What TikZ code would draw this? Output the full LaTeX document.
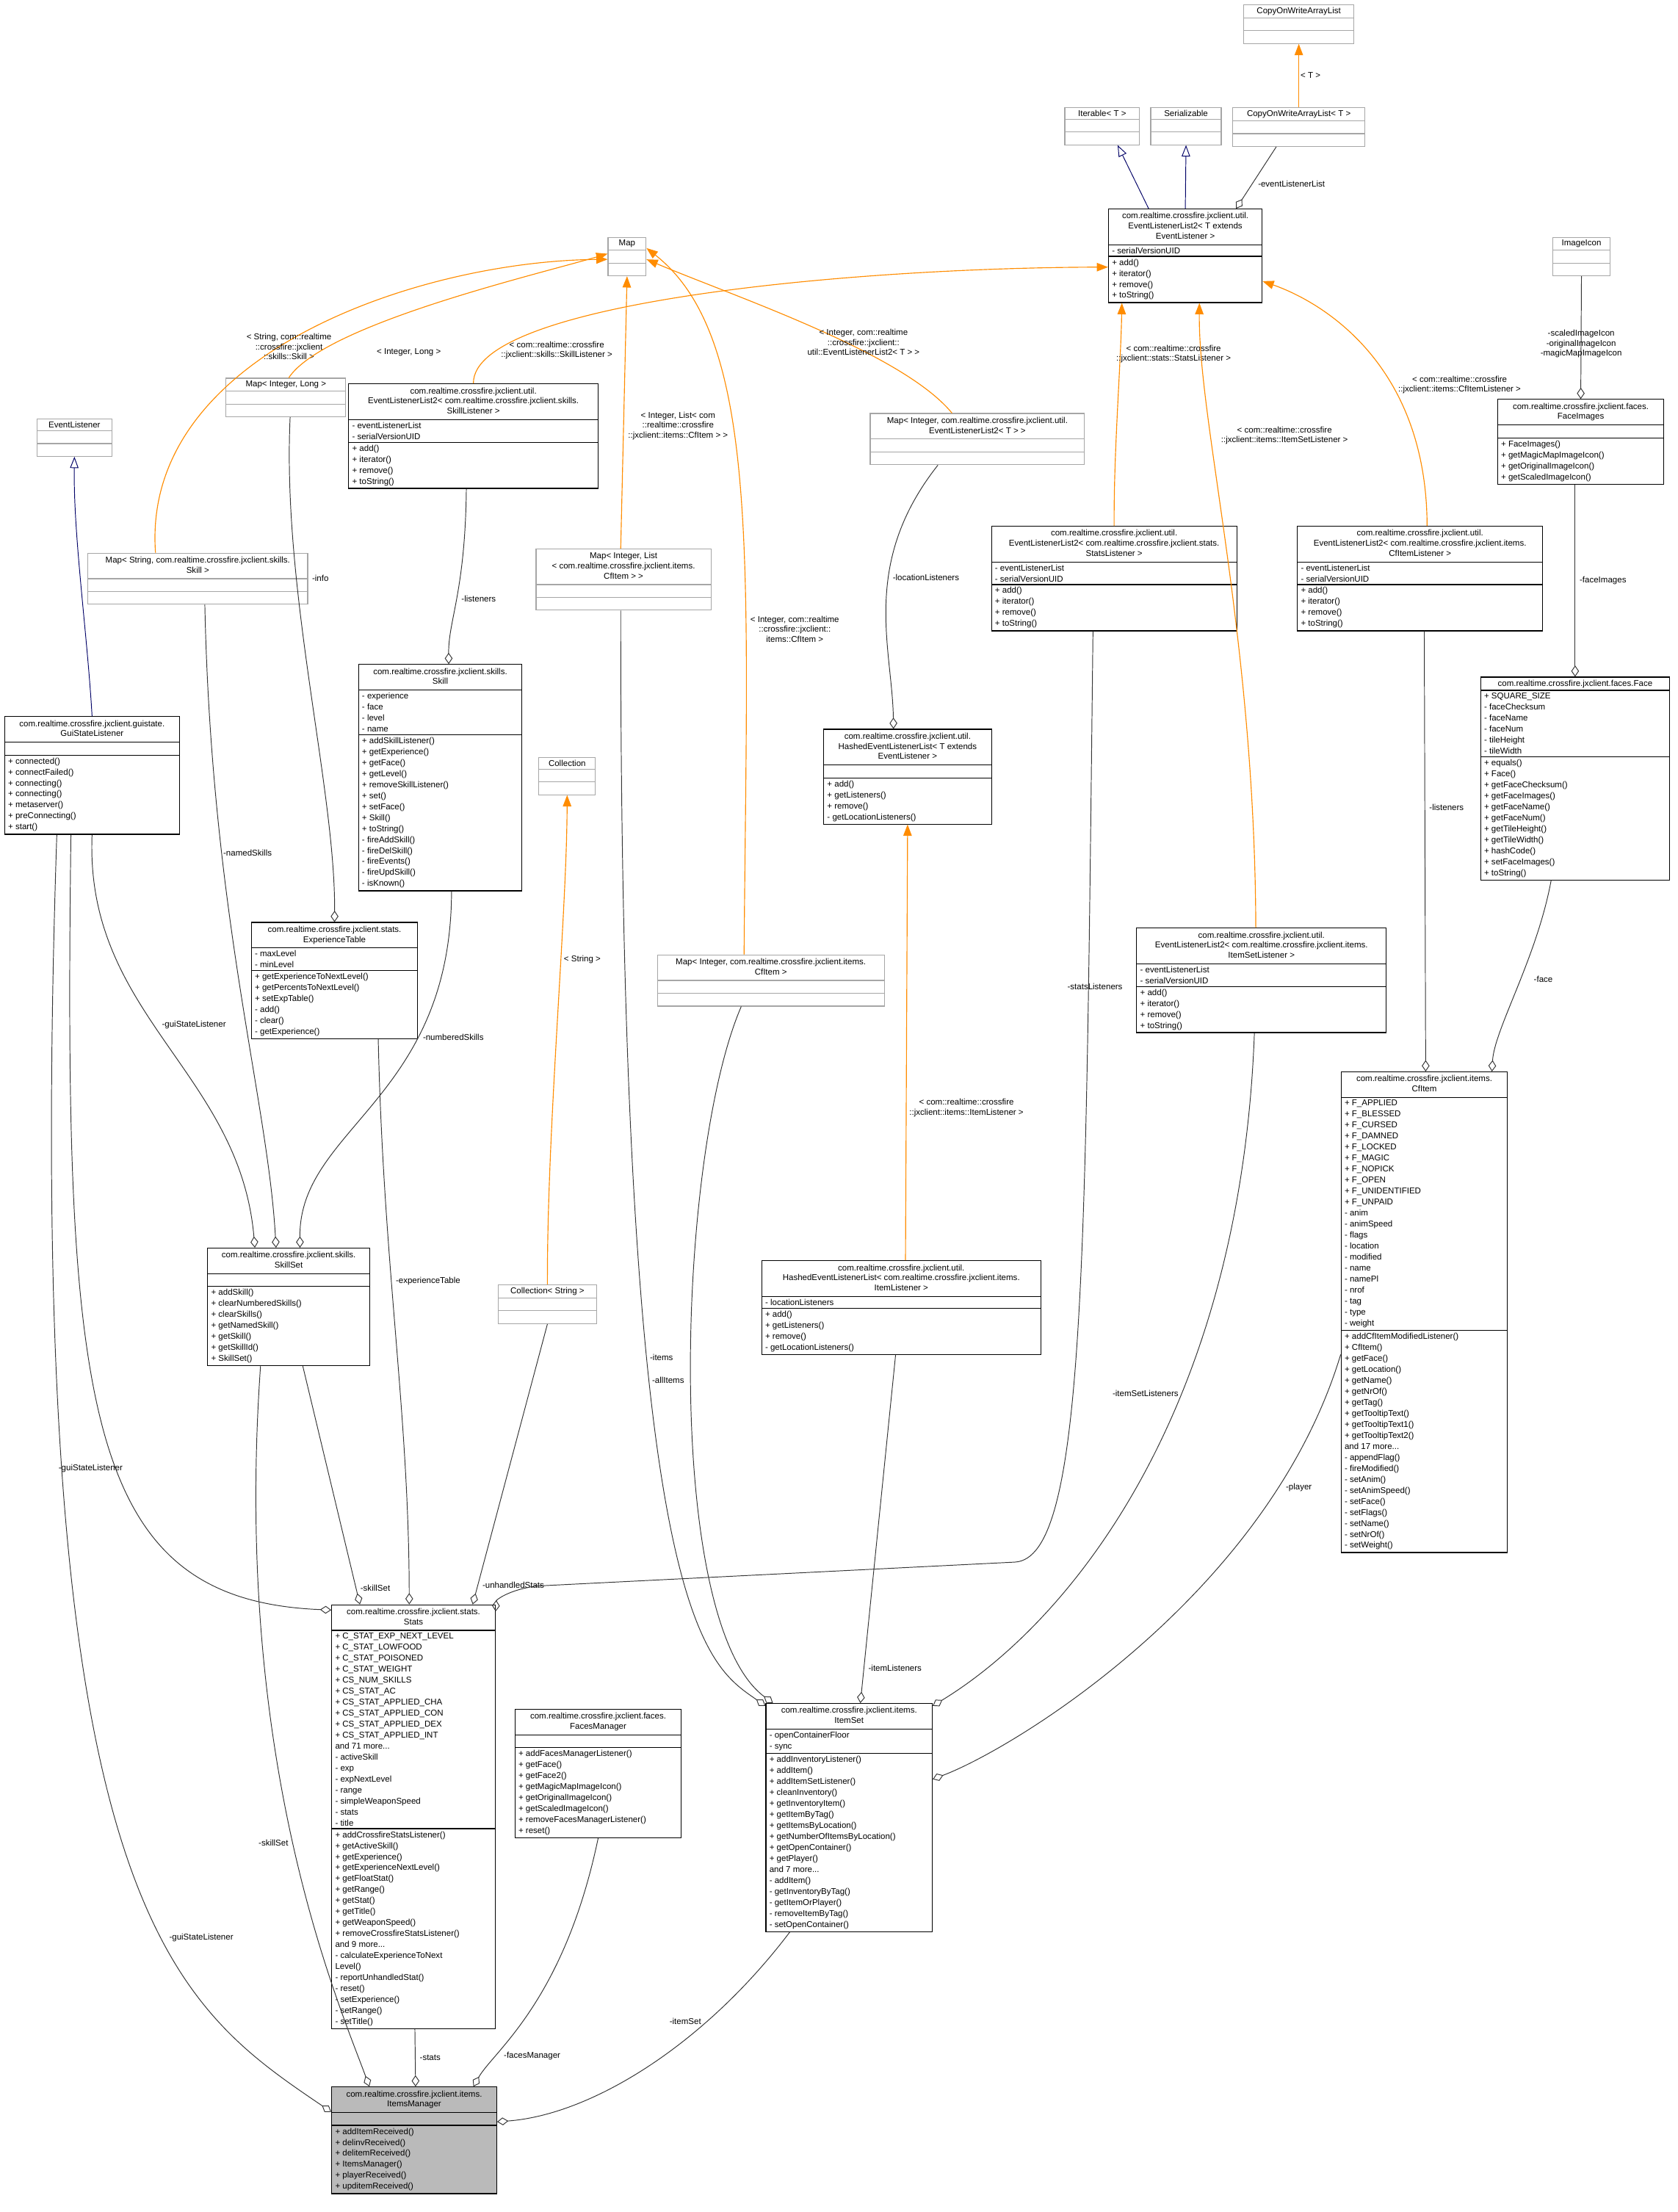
\documentclass[tikz,border=0pt]{standalone}
\usepackage{fontspec}
\setmainfont{Liberation Sans}
\usetikzlibrary{shapes.multipart,arrows.meta}
\newcommand{\ctitle}[1]{\begin{tabular}{@{}c@{}}#1\end{tabular}}

\begin{document}
\begin{tikzpicture}[x=1pt,y=-1pt,
		cls/.style={rectangle split,rectangle split parts=3,draw=black,anchor=north west,
			inner xsep=2.5pt,inner ysep=1.6pt,align=left,font=\fontsize{6}{7.8}\selectfont,
			rectangle split part align={center,left,left},
			rectangle split empty part height=4pt,line width=0.6pt},
		extcls/.style={cls,draw=black!35},
		agg/.style={draw=black!80,line width=0.5pt,-{Diamond[open,length=8pt,width=5.5pt]}},
		inh/.style={draw=blue!40!black,line width=0.5pt,-{Triangle[open,length=8pt,width=6pt]}},
		tmpl/.style={draw=orange!90!yellow,line width=0.6pt,-{Triangle[length=8pt,width=6pt]}},
		lbl/.style={font=\fontsize{6}{7}\selectfont,align=center,inner sep=1pt}]
		\useasboundingbox (0,0) rectangle (1190,1569);
		\renewcommand{\arraystretch}{0.92}
		
		% classes
		\node[extcls,minimum width=78] (copyList) at (882,3) {CopyOnWriteArrayList\nodepart{two}\nodepart{three}};
		\node[extcls,minimum width=53] (iterable) at (755,76) {Iterable< T >\nodepart{two}\nodepart{three}};
		\node[extcls,minimum width=50] (serializable) at (816,76) {Serializable\nodepart{two}\nodepart{three}};
		\node[extcls,minimum width=94] (copyListT) at (874,76) {CopyOnWriteArrayList< T >\nodepart{two}\nodepart{three}};
		\node[cls,minimum width=109] (evList) at (786,148) {\ctitle{com.realtime.crossfire.jxclient.util.\\EventListenerList2< T extends\\EventListener >}
			\nodepart{two}- serialVersionUID\nodepart{three}+ add()\\+ iterator()\\+ remove()\\+ toString()};
		\node[extcls,minimum width=27] (map) at (431,168) {Map\nodepart{two}\nodepart{three}};
		\node[extcls,minimum width=41] (imageIcon) at (1101,168) {ImageIcon\nodepart{two}\nodepart{three}};
		\node[cls,minimum width=118] (faceImages) at (1062,283) {\ctitle{com.realtime.crossfire.jxclient.faces.\\FaceImages}
			\nodepart{two}\nodepart{three}+ FaceImages()\\+ getMagicMapImageIcon()\\+ getOriginalImageIcon()\\+ getScaledImageIcon()};
		\node[extcls,minimum width=53] (eventListener) at (26,297) {EventListener\nodepart{two}\nodepart{three}};
		\node[cls,minimum width=177] (evListSkill) at (247,272) {\ctitle{com.realtime.crossfire.jxclient.util.\\EventListenerList2< com.realtime.crossfire.jxclient.skills.\\SkillListener >}
			\nodepart{two}- eventListenerList\\- serialVersionUID\nodepart{three}+ add()\\+ iterator()\\+ remove()\\+ toString()};
		\node[extcls,minimum width=85] (mapLong) at (160,268) {Map< Integer, Long >\nodepart{two}\nodepart{three}};
		\node[extcls,minimum width=152] (mapEvList) at (617,293) {\ctitle{Map< Integer, com.realtime.crossfire.jxclient.util.\\EventListenerList2< T > >}\nodepart{two}\nodepart{three}};
		\node[extcls,minimum width=156] (mapSkill) at (62,392) {\ctitle{Map< String, com.realtime.crossfire.jxclient.skills.\\Skill >}\nodepart{two}\nodepart{three}};
		\node[extcls,minimum width=124] (mapList) at (380,389) {\ctitle{Map< Integer, List\\< com.realtime.crossfire.jxclient.items.\\CfItem > >}\nodepart{two}\nodepart{three}};
		\node[cls,minimum width=174] (evListStats) at (703,373) {\ctitle{com.realtime.crossfire.jxclient.util.\\EventListenerList2< com.realtime.crossfire.jxclient.stats.\\StatsListener >}
			\nodepart{two}- eventListenerList\\- serialVersionUID\nodepart{three}+ add()\\+ iterator()\\+ remove()\\+ toString()};
		\node[cls,minimum width=174] (evListCfItem) at (920,373) {\ctitle{com.realtime.crossfire.jxclient.util.\\EventListenerList2< com.realtime.crossfire.jxclient.items.\\CfItemListener >}
			\nodepart{two}- eventListenerList\\- serialVersionUID\nodepart{three}+ add()\\+ iterator()\\+ remove()\\+ toString()};
		\node[cls,minimum width=124] (guiState) at (3,508) {\ctitle{com.realtime.crossfire.jxclient.guistate.\\GuiStateListener}
			\nodepart{two}\nodepart{three}+ connected()\\+ connectFailed()\\+ connecting()\\+ connecting()\\+ metaserver()\\+ preConnecting()\\+ start()};
		\node[cls,minimum width=116] (skill) at (254,471) {\ctitle{com.realtime.crossfire.jxclient.skills.\\Skill}
			\nodepart{two}- experience\\- face\\- level\\- name
			\nodepart{three}+ addSkillListener()\\+ getExperience()\\+ getFace()\\+ getLevel()\\+ removeSkillListener()\\+ set()\\+ setFace()\\+ Skill()\\+ toString()\\- fireAddSkill()\\- fireDelSkill()\\- fireEvents()\\- fireUpdSkill()\\- isKnown()};
		\node[cls,minimum width=134] (face) at (1050,480) {com.realtime.crossfire.jxclient.faces.Face
			\nodepart{two}+ SQUARE\_SIZE\\- faceChecksum\\- faceName\\- faceNum\\- tileHeight\\- tileWidth
			\nodepart{three}+ equals()\\+ Face()\\+ getFaceChecksum()\\+ getFaceImages()\\+ getFaceName()\\+ getFaceNum()\\+ getTileHeight()\\+ getTileWidth()\\+ hashCode()\\+ setFaceImages()\\+ toString()};
		\node[cls,minimum width=119] (hashedList) at (584,517) {\ctitle{com.realtime.crossfire.jxclient.util.\\HashedEventListenerList< T extends\\EventListener >}
			\nodepart{two}\nodepart{three}+ add()\\+ getListeners()\\+ remove()\\- getLocationListeners()};
		\node[extcls,minimum width=40] (collection) at (382,537) {Collection\nodepart{two}\nodepart{three}};
		\node[cls,minimum width=118] (expTable) at (178,654) {\ctitle{com.realtime.crossfire.jxclient.stats.\\ExperienceTable}
			\nodepart{two}- maxLevel\\- minLevel
			\nodepart{three}+ getExperienceToNextLevel()\\+ getPercentsToNextLevel()\\+ setExpTable()\\- add()\\- clear()\\- getExperience()};
		\node[extcls,minimum width=161] (mapCfItem) at (466,677) {\ctitle{Map< Integer, com.realtime.crossfire.jxclient.items.\\CfItem >}\nodepart{two}\nodepart{three}};
		\node[cls,minimum width=177] (evListItemSet) at (806,658) {\ctitle{com.realtime.crossfire.jxclient.util.\\EventListenerList2< com.realtime.crossfire.jxclient.items.\\ItemSetListener >}
			\nodepart{two}- eventListenerList\\- serialVersionUID\nodepart{three}+ add()\\+ iterator()\\+ remove()\\+ toString()};
		\node[cls,minimum width=118] (cfItem) at (951,760) {\ctitle{com.realtime.crossfire.jxclient.items.\\CfItem}
			\nodepart{two}+ F\_APPLIED\\+ F\_BLESSED\\+ F\_CURSED\\+ F\_DAMNED\\+ F\_LOCKED\\+ F\_MAGIC\\+ F\_NOPICK\\+ F\_OPEN\\+ F\_UNIDENTIFIED\\+ F\_UNPAID\\- anim\\- animSpeed\\- flags\\- location\\- modified\\- name\\- namePl\\- nrof\\- tag\\- type\\- weight
			\nodepart{three}+ addCfItemModifiedListener()\\+ CfItem()\\+ getFace()\\+ getLocation()\\+ getName()\\+ getNrOf()\\+ getTag()\\+ getTooltipText()\\+ getTooltipText1()\\+ getTooltipText2()\\and 17 more...\\- appendFlag()\\- fireModified()\\- setAnim()\\- setAnimSpeed()\\- setFace()\\- setFlags()\\- setName()\\- setNrOf()\\- setWeight()};
		\node[cls,minimum width=115] (skillSet) at (147,885) {\ctitle{com.realtime.crossfire.jxclient.skills.\\SkillSet}
			\nodepart{two}\nodepart{three}+ addSkill()\\+ clearNumberedSkills()\\+ clearSkills()\\+ getNamedSkill()\\+ getSkill()\\+ getSkillId()\\+ SkillSet()};
		\node[extcls,minimum width=70] (collectionStr) at (353,911) {Collection< String >\nodepart{two}\nodepart{three}};
		\node[cls,minimum width=198] (hashedItem) at (540,894) {\ctitle{com.realtime.crossfire.jxclient.util.\\HashedEventListenerList< com.realtime.crossfire.jxclient.items.\\ItemListener >}
			\nodepart{two}- locationListeners\nodepart{three}+ add()\\+ getListeners()\\+ remove()\\- getLocationListeners()};
		\node[cls,minimum width=116] (stats) at (235,1138) {\ctitle{com.realtime.crossfire.jxclient.stats.\\Stats}
			\nodepart{two}+ C\_STAT\_EXP\_NEXT\_LEVEL\\+ C\_STAT\_LOWFOOD\\+ C\_STAT\_POISONED\\+ C\_STAT\_WEIGHT\\+ CS\_NUM\_SKILLS\\+ CS\_STAT\_AC\\+ CS\_STAT\_APPLIED\_CHA\\+ CS\_STAT\_APPLIED\_CON\\+ CS\_STAT\_APPLIED\_DEX\\+ CS\_STAT\_APPLIED\_INT\\and 71 more...\\- activeSkill\\- exp\\- expNextLevel\\- range\\- simpleWeaponSpeed\\- stats\\- title
			\nodepart{three}+ addCrossfireStatsListener()\\+ getActiveSkill()\\+ getExperience()\\+ getExperienceNextLevel()\\+ getFloatStat()\\+ getRange()\\+ getStat()\\+ getTitle()\\+ getWeaponSpeed()\\+ removeCrossfireStatsListener()\\and 9 more...\\- calculateExperienceToNext\\Level()\\- reportUnhandledStat()\\- reset()\\- setExperience()\\- setRange()\\- setTitle()};
		\node[cls,minimum width=118] (facesManager) at (365,1212) {\ctitle{com.realtime.crossfire.jxclient.faces.\\FacesManager}
			\nodepart{two}\nodepart{three}+ addFacesManagerListener()\\+ getFace()\\+ getFace2()\\+ getMagicMapImageIcon()\\+ getOriginalImageIcon()\\+ getScaledImageIcon()\\+ removeFacesManagerListener()\\+ reset()};
		\node[cls,minimum width=118] (itemSet) at (543,1208) {\ctitle{com.realtime.crossfire.jxclient.items.\\ItemSet}
			\nodepart{two}- openContainerFloor\\- sync
			\nodepart{three}+ addInventoryListener()\\+ addItem()\\+ addItemSetListener()\\+ cleanInventory()\\+ getInventoryItem()\\+ getItemByTag()\\+ getItemsByLocation()\\+ getNumberOfItemsByLocation()\\+ getOpenContainer()\\+ getPlayer()\\and 7 more...\\- addItem()\\- getInventoryByTag()\\- getItemOrPlayer()\\- removeItemByTag()\\- setOpenContainer()};
		\node[cls,minimum width=117,fill=black!27] (itemsManager) at (235,1480) {\ctitle{com.realtime.crossfire.jxclient.items.\\ItemsManager}
			\nodepart{two}\nodepart{three}+ addItemReceived()\\+ delinvReceived()\\+ delitemReceived()\\+ ItemsManager()\\+ playerReceived()\\+ upditemReceived()};
		
		% inheritance
		\draw[inh] ([xshift=-26]evList.north) -- ([xshift=11]iterable.south);
		\draw[inh] (evList.north) -- (serializable.south);
		\draw[inh] (guiState.north) .. controls (62,450) and (52,380) .. (eventListener.south);
		
		% template instances
		\draw[tmpl] (copyListT.north) -- node[lbl,right]{< T >} (copyList.south);
		\draw[tmpl] (evListSkill.north) .. controls (335,215) and (600,190) .. ([yshift=-8]evList.west)
			node[lbl,pos=0.15,right=2pt]{< com::realtime::crossfire\\::jxclient::skills::SkillListener >};
		\draw[tmpl] (evListStats.north) .. controls (790,320) and (795,260) .. ([xshift=-45]evList.south)
			node[lbl,pos=0.75,right=-4pt]{< com::realtime::crossfire\\::jxclient::stats::StatsListener >};
		\draw[tmpl] ([xshift=5]evListCfItem.north) .. controls (1012,260) and (940,215) .. ([yshift=-18]evList.east)
			node[lbl,pos=0.3,left=-40pt,above=8pt]{< com::realtime::crossfire\\::jxclient::items::CfItemListener >};
		\draw[tmpl] ([xshift=-4]evListItemSet.north) .. controls (890,450) and (850,300) .. ([xshift=10]evList.south)
			node[lbl,pos=0.7,right=6pt]{< com::realtime::crossfire\\::jxclient::items::ItemSetListener >};
		\draw[tmpl] ([xshift=-30]mapSkill.north) .. controls (100,250) and (300,185) .. ([yshift=-2]map.west);
		\node[lbl] (lblMapSkill) at (205,246) {< String, com::realtime\\::crossfire::jxclient\\::skills::Skill >};
		\draw[tmpl] ([xshift=2]mapLong.north) .. controls (230,230) and (380,195) .. ([yshift=2]map.west);
		\node[lbl] (lblMapLong) at (290,250) {< Integer, Long >};
		\draw[tmpl] ([xshift=-2]mapList.north) -- (map.south)
			node[lbl,pos=0.45,right=2pt]{< Integer, List< com\\::realtime::crossfire\\::jxclient::items::CfItem > >};
		\draw[tmpl] ([xshift=-19]mapCfItem.north) .. controls (530,400) and (540,240) .. ([yshift=6]map.east)
			node[lbl,pos=0.32,anchor=west,xshift=2pt]{< Integer, com::realtime\\::crossfire::jxclient::\\items::CfItem >};
		\draw[tmpl] ([xshift=-18]mapEvList.north) .. controls (640,250) and (520,210) .. ([yshift=-2]map.east)
			node[lbl,pos=0.3,right=-12pt,above=2pt]{< Integer, com::realtime\\::crossfire::jxclient::\\util::EventListenerList2< T > >};
		\draw[tmpl] ([xshift=3]hashedItem.north) -- (hashedList.south)
			node[lbl,pos=0.35,right=1pt]{< com::realtime::crossfire\\::jxclient::items::ItemListener >};
		\draw[tmpl] (collectionStr.north) .. controls (388,800) and (402,650) .. (collection.south)
			node[lbl,pos=0.63,right=1pt]{< String >};
		
		% aggregations
		\draw[agg] ([xshift=-16]copyListT.south) -- node[lbl,right=3pt,pos=0.6]{-eventListenerList} ([xshift=36]evList.north);
		\draw[agg] (imageIcon.south) -- node[lbl,pos=0.55,right=-30pt]{-scaledImageIcon\\-originalImageIcon\\-magicMapImageIcon} (faceImages.north);
		\draw[agg] ([xshift=-4]faceImages.south) -- node[lbl,pos=0.5,right=2pt]{-faceImages} (face.north);
		\draw[agg] ([xshift=3]mapLong.south) .. controls (200,420) and (238,560) .. (expTable.north)
			node[lbl,pos=0.3,right=10pt]{-info};
		\draw[agg] ([xshift=-5]evListSkill.south) .. controls (330,420) and (318,440) .. ([xshift=6]skill.north)
			node[lbl,pos=0.5,right=2pt]{-listeners};
		\draw[agg] ([xshift=-28]mapEvList.south) .. controls (610,400) and (633,460) .. ([xshift=-10]hashedList.north)
			node[lbl,pos=0.4,right=2pt]{-locationListeners};
		\draw[agg] ([xshift=3]evListCfItem.south) -- node[lbl,pos=0.4,right=2pt]{-listeners} ([xshift=1]cfItem.north);
		\draw[agg] ([xshift=-17]face.south) .. controls (1090,680) and (1060,730) .. ([xshift=48]cfItem.north)
			node[lbl,pos=0.45,right=8pt]{-face};
		\draw[agg] ([xshift=5]mapSkill.south) .. controls (150,650) and (190,780) .. ([xshift=-9]skillSet.north)
			node[lbl,pos=0.3,right=0pt]{-namedSkills};
		\draw[agg] ([xshift=8]skill.south) .. controls (320,780) and (212,800) .. ([xshift=8]skillSet.north)
			node[lbl,pos=0.3,right=2pt]{-numberedSkills};
		\draw[agg] ([xshift=-0]guiState.south) .. controls (60,720) and (170,760) .. ([xshift=-24]skillSet.north)
			node[lbl,pos=0.45,right=5pt]{-guiStateListener};
		\draw[agg] ([xshift=-15]guiState.south) .. controls (45,1000) and (60,1135) .. ([yshift=-4]stats.north west)
			node[lbl,pos=0.55,left=-5pt]{-guiStateListener};
		\draw[agg] ([xshift=-25]guiState.south) .. controls (15,1350) and (120,1420) .. ([yshift=-18]itemsManager.north west)
			node[lbl,pos=0.62,right=4pt]{-guiStateListener};
		\draw[agg] ([xshift=31]expTable.south) .. controls (272,900) and (290,1000) .. ([xshift=-3]stats.north)
			node[lbl,pos=0.4,right=2pt]{-experienceTable};
		\draw[agg] ([xshift=10]skillSet.south) -- node[lbl,pos=0.93,right=2pt]{-skillSet} ([xshift=-38]stats.north);
		\draw[agg] ([xshift=-20]skillSet.south) .. controls (165,1250) and (240,1420) .. ([xshift=27]itemsManager.north west)
			node[lbl,pos=0.5,left=2pt]{-skillSet};
		\draw[agg] (collectionStr.south) -- node[lbl,pos=0.93,right=2pt]{-unhandledStats} ([xshift=42]stats.north);
		\draw[agg] ([xshift=-15]evListStats.south) .. controls (770,900) and (770,1105) .. (720,1108) -- (380,1125) .. controls (360,1128) and (352,1135) .. ([yshift=-5]stats.north east);
		\node[lbl,right] (lblStatsL) at (756,700) {-statsListeners};
		\draw[agg] ([xshift=-2]mapList.south) .. controls (440,1150) and (500,1180) .. ([yshift=-2]itemSet.north west)
			node[lbl,pos=0.35,right=1pt]{-items};
		\draw[agg] ([xshift=-21]mapCfItem.south) .. controls (480,820) and (470,1150) .. ([xshift=-54]itemSet.north)
			node[lbl,pos=0.5,left=4pt]{-allItems};
		\draw[agg] ([xshift=-4]hashedItem.south) -- node[lbl,pos=0.9,right=2pt]{-itemListeners} ([xshift=8]itemSet.north);
		\draw[agg] ([xshift=-5]evListItemSet.south) .. controls (880,1000) and (760,1150) .. ([yshift=-2]itemSet.north east)
			node[lbl,pos=0.38,left=1pt]{-itemSetListeners};
		\draw[agg] ([yshift=-30]cfItem.west) .. controls (900,1130) and (720,1240) .. ([yshift=-54]itemSet.north east)
			node[lbl,pos=0.2,right=4pt]{-player};
		\draw[agg] ([xshift=1]stats.south) -- node[lbl,pos=0.5,right=2pt]{-stats} ([xshift=1]itemsManager.north);
		\draw[agg] (facesManager.south) .. controls (400,1420) and (350,1455) .. ([xshift=42]itemsManager.north)
			node[lbl,pos=0.75,right=4pt]{-facesManager};
		\draw[agg] ([xshift=-42]itemSet.south) .. controls (500,1450) and (420,1500) .. ([yshift=-25]itemsManager.north east)
			node[lbl,pos=0.3,left=3pt]{-itemSet};

		\end{tikzpicture}
\end{document}
